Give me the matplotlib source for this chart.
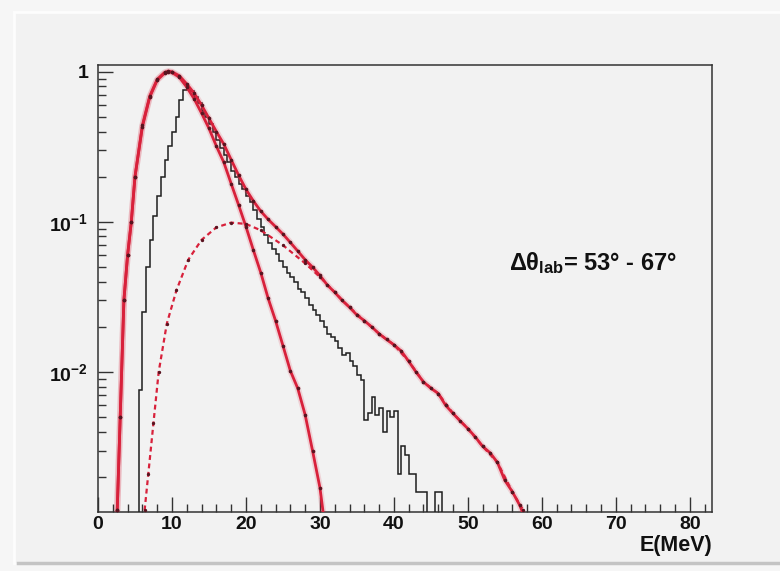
import numpy as np
import matplotlib
matplotlib.use("Agg")
import matplotlib.pyplot as plt
from matplotlib.ticker import FixedLocator, FixedFormatter, MultipleLocator, NullFormatter
from matplotlib.patches import Rectangle
from matplotlib.lines import Line2D

plt.rcParams["font.family"] = ["Liberation Sans", "DejaVu Sans"]
plt.rcParams["font.weight"] = "bold"
plt.rcParams["mathtext.fontset"] = "custom"
plt.rcParams["mathtext.rm"] = "Liberation Sans:bold"
plt.rcParams["mathtext.bf"] = "Liberation Sans:bold"
plt.rcParams["mathtext.it"] = "Liberation Sans:bold"
plt.rcParams["mathtext.sf"] = "Liberation Sans:bold"

# ---- measured energy spectrum (0.5 MeV bins starting at 5.5 MeV) ----
hist_first_edge = 5.5
hist_bin_width = 0.5
hist_counts = [
    0.0076, 0.025, 0.05, 0.076, 0.11, 0.15, 0.2, 0.26, 0.32, 0.4,
    0.5, 0.65, 0.76, 0.78, 0.74, 0.68, 0.62, 0.55, 0.50, 0.45,
    0.40, 0.35, 0.31, 0.28, 0.25, 0.22, 0.20, 0.18, 0.165, 0.15,
    0.135, 0.12, 0.105, 0.093, 0.082, 0.072, 0.066, 0.061, 0.055, 0.050,
    0.046, 0.043, 0.040, 0.036, 0.034, 0.031, 0.028, 0.026, 0.024, 0.022,
    0.020, 0.018, 0.017, 0.016, 0.0145, 0.013, 0.0135, 0.0118, 0.011, 0.0095,
    0.0088, 0.0048, 0.0053, 0.0068, 0.0052, 0.0058, 0.0040, 0.0055, 0.0050, 0.0055,
    0.0021, 0.0032, 0.0028, 0.0021, 0.0021, 0.0016, 0.0016, 0.0016, 0.0, 0.0,
    0.0016, 0.0016,
]

# ---- low-energy component (solid red) ----
e_low = [2.6, 3.0, 3.5, 4.0, 4.5, 5.0, 6.0, 7.0, 8.0, 9.0, 9.5, 10.0, 11.0, 12.0,
         13.0, 14.0, 15.0, 16.0, 17.0, 18.0, 19.0, 20.0, 21.0, 22.0, 23.0, 24.0,
         25.0, 26.0, 27.0, 28.0, 29.0, 30.0, 30.5]
y_low = [0.0012, 0.005, 0.03, 0.06, 0.1, 0.2, 0.43, 0.68, 0.88, 0.98, 1.0, 0.99, 0.92, 0.79,
         0.66, 0.53, 0.42, 0.32, 0.25, 0.18, 0.13, 0.093, 0.065, 0.046, 0.031, 0.022,
         0.015, 0.0102, 0.0078, 0.0052, 0.0030, 0.0017, 0.0011]

# ---- high-energy component (dashed red) ----
e_high = [6.3, 6.8, 7.5, 8.2, 9.3, 10.6, 12.2, 14.0, 16.0, 18.0, 20.0, 22.0, 25.0,
          28.0, 30.0, 32.0, 34.0, 36.0, 38.0, 40.0, 42.0, 44.0, 46.0, 48.0, 50.0,
          52.0, 54.0, 56.0, 57.5]
y_high = [0.0012, 0.0021, 0.0046, 0.010, 0.021, 0.035, 0.056, 0.076, 0.092, 0.099, 0.097,
          0.088, 0.070, 0.053, 0.043, 0.034, 0.027, 0.022, 0.018, 0.0152, 0.0118, 0.0086,
          0.0072, 0.0053, 0.0042, 0.0032, 0.0025, 0.0016, 0.0012]

# ---- sum of both components (solid red with points) ----
e_total = [2.6, 3.0, 3.5, 4.0, 4.5, 5.0, 6.0, 7.0, 8.0, 9.0, 9.5, 10.0, 11.0, 12.0,
           13.0, 14.0, 15.0, 16.0, 17.0, 18.0, 19.0, 20.0, 21.0, 22.0, 23.0, 24.0,
           25.0, 26.0, 27.0, 28.0, 29.0, 30.0, 31.0, 32.0, 33.0, 34.0, 35.0, 36.0,
           37.0, 38.0, 39.0, 40.0, 41.0, 42.0, 43.0, 44.0, 45.0, 46.0, 47.0, 48.0,
           49.0, 50.0, 51.0, 52.0, 53.0, 54.0, 55.0, 56.0, 57.0, 57.6]
y_total = [0.0012, 0.005, 0.03, 0.06, 0.1, 0.2, 0.44, 0.69, 0.89, 0.99, 1.01, 1.0, 0.94, 0.83,
           0.72, 0.6, 0.49, 0.40, 0.33, 0.26, 0.205, 0.165, 0.138, 0.118, 0.104, 0.093,
           0.083, 0.073, 0.064, 0.056, 0.050, 0.044, 0.038, 0.034, 0.030, 0.027, 0.024, 0.022,
           0.020, 0.018, 0.0165, 0.0152, 0.0138, 0.0118, 0.0100, 0.0086, 0.0078, 0.0072, 0.0060, 0.0053,
           0.0047, 0.0042, 0.0037, 0.0032, 0.0029, 0.0025, 0.0019, 0.0016, 0.0013, 0.0011]

x_ticks = [0, 10, 20, 30, 40, 50, 60, 70, 80]
y_ticks = [1e-2, 1e-1, 1.0]
y_tick_labels = [r"$10^{-2}$", r"$10^{-1}$", "1"]
angle_label = r"$\Delta\theta_{lab}$= 53° - 67°"
x_label = "E(MeV)"

RED = "#d8213b"
DARK = "#5a1420"
BG = "#f2f2f2"

W, H = 780, 571
fig = plt.figure(figsize=(W / 100, H / 100), dpi=100, facecolor="#f6f6f6")


def px(x, y):
    return x / W, 1 - y / H


# canvas pad with bevelled border
pad = Rectangle(px(14, 563), (W - 14) / W, (563 - 12) / H, transform=fig.transFigure,
                facecolor=BG, edgecolor="none", zorder=-5)
fig.patches.append(pad)
fig.lines.append(Line2D([14 / W, 1], [1 - 12 / H] * 2, transform=fig.transFigure,
                        color="#fdfdfd", lw=2, zorder=-4))
fig.lines.append(Line2D([14 / W] * 2, [1 - 12 / H, 1 - 563 / H], transform=fig.transFigure,
                        color="#fdfdfd", lw=2, zorder=-4))
fig.lines.append(Line2D([18 / W, 1], [1 - 563 / H] * 2, transform=fig.transFigure,
                        color="#c4c4c4", lw=2.5, zorder=-4))

ax = fig.add_axes([98 / W, 59 / H, (712 - 98) / W, (512 - 65) / H])
ax.set_zorder(2)
ax.set_facecolor(BG)
ax.set_yscale("log")
ax.set_xlim(0, 83)
ax.set_ylim(1.17e-3, 1.11)

# measured histogram
counts = np.array(hist_counts)
edges = hist_first_edge + hist_bin_width * np.arange(len(counts) + 1)
draw_counts = np.where(counts > 0, counts, 1e-5)
ax.stairs(draw_counts, edges, baseline=1e-5, color="#1e1e1e", lw=1.1, zorder=3)

# fitted components with a soft halo
for e, y in ((e_low, y_low), (e_total, y_total)):
    ax.plot(e, y, color=RED, lw=4.5, alpha=0.15, solid_capstyle="round", zorder=4)
    ax.plot(e, y, color=RED, lw=2.0, zorder=5)
    ax.plot(e, y, ls="none", marker="o", ms=1.6, color=DARK, zorder=6)

ax.plot(e_high, y_high, color=RED, lw=1.6, ls=(0, (2.2, 1.6)), zorder=5)
ax.plot(e_high, y_high, ls="none", marker="o", ms=1.4, color=DARK, zorder=6)

# axes cosmetics
for s in ax.spines.values():
    s.set_color("#333333")
    s.set_linewidth(1.1)

ax.xaxis.set_major_locator(FixedLocator(x_ticks))
ax.xaxis.set_minor_locator(MultipleLocator(2))
ax.yaxis.set_major_locator(FixedLocator(y_ticks))
ax.yaxis.set_major_formatter(FixedFormatter(y_tick_labels))
minor_y = [m * 10.0 ** d for d in (-3, -2, -1) for m in range(2, 10)]
ax.yaxis.set_minor_locator(FixedLocator(minor_y))
ax.yaxis.set_minor_formatter(NullFormatter())

ax.tick_params(which="both", direction="in", top=False, right=False, colors="#333333",
               labelcolor="#111111", labelsize=14)
ax.tick_params(which="major", length=11, width=1.0)
ax.tick_params(which="minor", length=5.5, width=1.0)
ax.tick_params(axis="x", which="major", pad=3)
ax.tick_params(axis="y", which="major", pad=7)
for lab in ax.get_xticklabels() + ax.get_yticklabels():
    lab.set_fontweight("bold")

ax.text(1.0, -0.074, x_label, transform=ax.transAxes, ha="right", va="center",
        fontsize=15.5, fontweight="bold", color="#111111")
ax.text(0.670, 0.558, angle_label, transform=ax.transAxes, ha="left", va="center",
        fontsize=17, fontweight="bold", color="#111111")

fig.savefig("out.png", dpi=100, facecolor=fig.get_facecolor())
